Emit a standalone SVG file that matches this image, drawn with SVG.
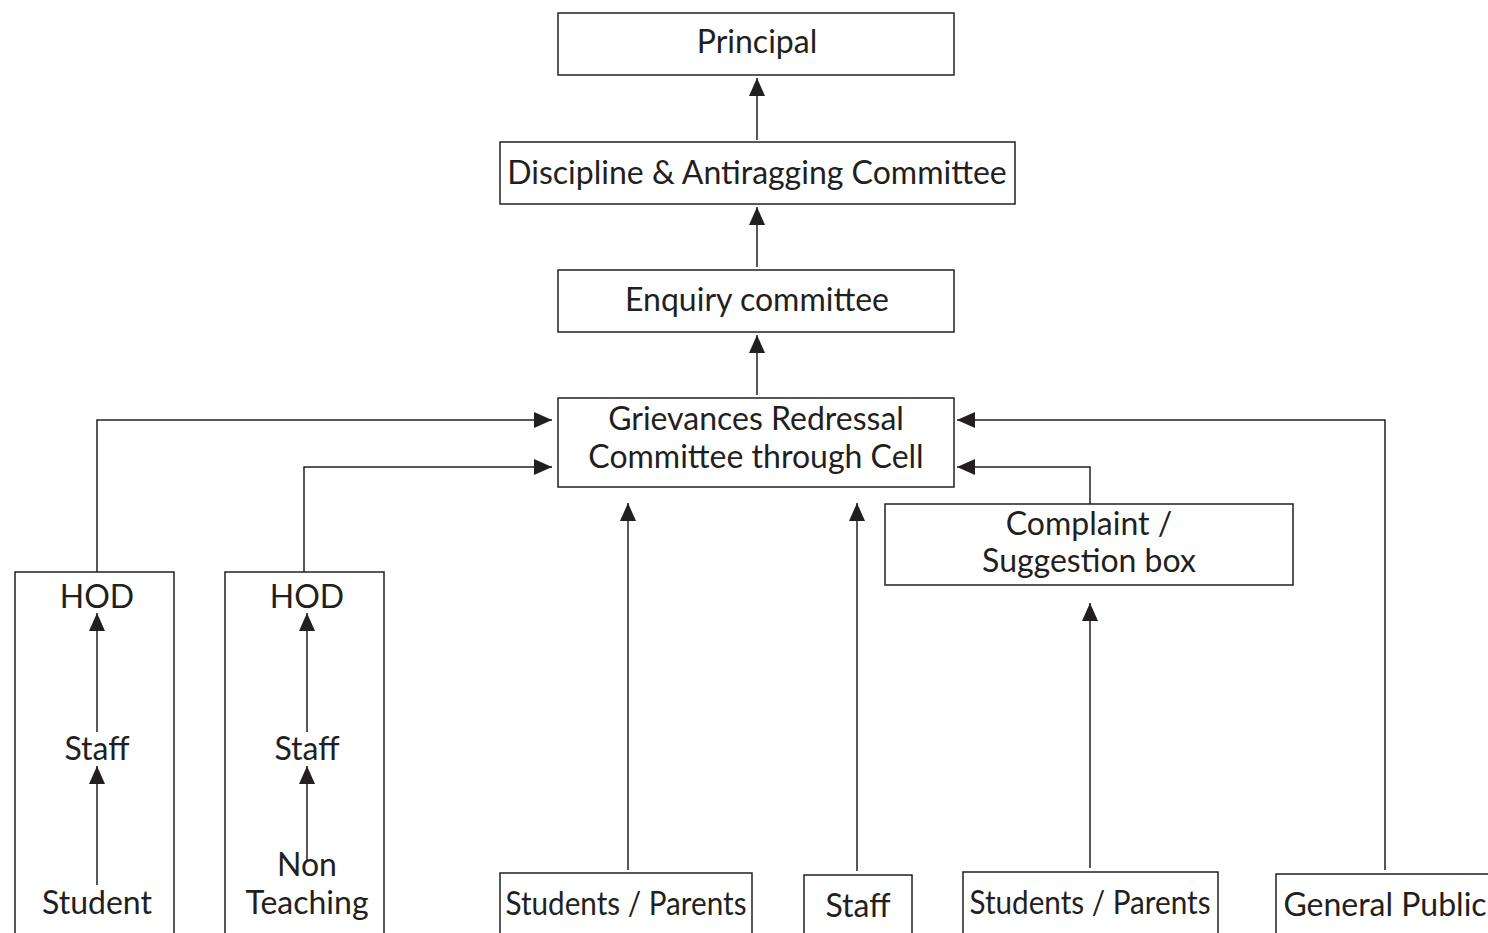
<svg xmlns="http://www.w3.org/2000/svg" width="1488" height="933" viewBox="0 0 1488 933">
<style>
.box{fill:#fff;stroke:#231f20;stroke-width:1.5}
.t{font-family:Lato,"Open Sans","Liberation Sans",sans-serif;font-size:32px;fill:#231f20;text-anchor:middle}
.c{fill:none;stroke:#231f20;stroke-width:1.5;marker-end:url(#ah)}
</style>
<defs>
<marker id="ah" markerUnits="userSpaceOnUse" markerWidth="18" markerHeight="16" refX="18" refY="8" orient="auto" viewBox="0 0 18 16">
<path d="M0,0 L18,8 L0,16 z" fill="#231f20"/>
</marker>
</defs>
<rect width="1488" height="933" fill="#fff"/>
<g id="principal"><rect class="box" x="558" y="13" width="396" height="62"/><text class="t" x="757" y="53">Principal</text></g>
<g id="discipline"><rect class="box" x="500" y="142" width="515" height="62"/><text class="t" x="757" y="184">Discipline &amp; Antiragging Committee</text></g>
<g id="enquiry"><rect class="box" x="558" y="270" width="396" height="62"/><text class="t" x="757" y="311">Enquiry committee</text></g>
<g id="grievances"><rect class="box" x="558" y="398" width="396" height="89"/><text class="t" x="756" y="430">Grievances Redressal</text><text class="t" x="756" y="468">Committee through Cell</text></g>
<g id="complaint"><rect class="box" x="885" y="504" width="408" height="81"/><text class="t" x="1089" y="535">Complaint /</text><text class="t" x="1089" y="572">Suggestion box</text></g>
<g id="hod-student"><rect class="box" x="15" y="572" width="159" height="400"/><text class="t" x="97" y="608">HOD</text><text class="t" x="97" y="760">Staff</text><text class="t" x="97" y="914">Student</text></g>
<g id="hod-nonteaching"><rect class="box" x="225" y="572" width="159" height="400"/><text class="t" x="307" y="608">HOD</text><text class="t" x="307" y="760">Staff</text><text class="t" x="307" y="876">Non</text><text class="t" x="307" y="914">Teaching</text></g>
<g id="students-parents-1"><rect class="box" x="500" y="873" width="252" height="100"/><text class="t" x="626" y="915" textLength="241" lengthAdjust="spacingAndGlyphs">Students / Parents</text></g>
<g id="staff"><rect class="box" x="804" y="875" width="108" height="100"/><text class="t" x="858" y="917">Staff</text></g>
<g id="students-parents-2"><rect class="box" x="963" y="872" width="255" height="100"/><text class="t" x="1090" y="914" textLength="241" lengthAdjust="spacingAndGlyphs">Students / Parents</text></g>
<g id="general-public"><rect class="box" x="1276" y="874" width="260" height="100"/><text class="t" x="1385" y="916">General Public</text></g>
<g id="connectors">
<path class="c" d="M757,140 V78"/>
<path class="c" d="M757,267 V207"/>
<path class="c" d="M757,395 V335"/>
<path class="c" d="M97,572 V420 H552"/>
<path class="c" d="M304,572 V467 H552"/>
<path class="c" d="M1385,870 V420 H957"/>
<path class="c" d="M1090,504 V467 H957"/>
<path class="c" d="M628,870 V503"/>
<path class="c" d="M857,871 V503"/>
<path class="c" d="M1090,868 V603"/>
<path class="c" d="M97,732 V613"/>
<path class="c" d="M97,885 V766"/>
<path class="c" d="M307,732 V613"/>
<path class="c" d="M307,860 V766"/>
</g>
</svg>
